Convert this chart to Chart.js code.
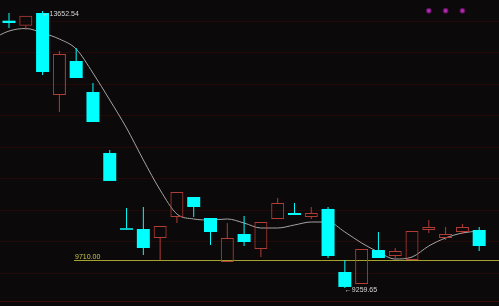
<!DOCTYPE html>
<html>
<head>
<meta charset="utf-8">
<script src="https://cdn.jsdelivr.net/npm/chart.js@4.4.1/dist/chart.umd.min.js"></script>
<style>
  html, body { margin: 0; padding: 0; background: #0b0909; overflow: hidden; }
  canvas { display: block; background: #0b0909; }
</style>
</head>
<body>
<canvas id="c" width="499" height="306"></canvas>
<script>
// ---- data ----
const opens  = [13499, 13419, 13621, 12320, 12860, 12368, 11401, 10207, 10195, 10053,
                10386, 10703, 10370,  9672, 10116,  9878, 10354, 10449, 10386, 10513,
                 9513,  9323,  9862,  9767,  9704, 10179, 10053, 10148, 10179];
const highs  = [13621, 13578, 13652.54, 13018, 13066, 12511, 11448, 10528, 10544, 10243,
                10782, 10703, 10370, 10290, 10402, 10306, 10687, 10608, 10544, 10544,
                 9704,  9878, 10148,  9894, 10164, 10338, 10227, 10275, 10227];
const lows   = [13383, 13351, 12638, 12051, 12590, 11892, 10957, 10179,  9783,  9705,
                10290, 10386,  9942,  9672,  9926,  9751, 10354, 10417, 10354,  9735,
                 9259.65, 9323, 9735, 9704,  9704, 10132, 10021, 10116,  9846];
const closes = [13462, 13578, 12685, 12971, 12590, 11892, 10957, 10183,  9894, 10243,
                10782, 10544, 10148, 10053,  9989, 10306, 10608, 10417, 10449,  9767,
                 9276,  9878,  9735,  9846, 10164, 10227, 10116, 10227,  9926];
// moving average, starting one bar before the first candle
const maStart = -1;
const maValues = [13208, 13335, 13375, 13304, 13208, 13050, 12669, 12241, 11797, 11290,
                  10814, 10433, 10354, 10338, 10354, 10290, 10211, 10211, 10259, 10306,
                  10306, 10148,  9973,  9830,  9719,  9751,  9926, 10053, 10132, 10164];
const gridLevels = [9500, 10000, 10500, 11000, 11500, 12000, 12500, 13000, 13500];
const supportLevel = 9710;
const signalIdx = [25, 26, 27];
const signalLevel = 13657;
const yMin = 8974, yMax = 13827;
const xMin = -0.536, xMax = 29.18;

// ---- colours ----
const UP = '#b23c36';
const DOWN = '#00ffff';
const BG = '#0b0909';

// ---- build datasets ----
const upBodies = [], downBodies = [], upWicks = [], downWicks = [];
opens.forEach((o, i) => {
  const c = closes[i], h = highs[i], l = lows[i];
  const top = Math.max(o, c), bot = Math.min(o, c);
  const up = c >= o;
  (up ? upBodies : downBodies).push({ x: i, y: [bot, top] });
  const wk = up ? upWicks : downWicks;
  if (h > top) wk.push({ x: i, y: [top, h] });
  if (l < bot) wk.push({ x: i, y: [l, bot] });
});
const maData = maValues.map((v, k) => ({ x: maStart + k, y: v }));
const sigData = signalIdx.map(i => ({ x: i, y: signalLevel }));

const fmt = v => v.toFixed(2);

const overlay = {
  id: 'overlay',
  beforeDraw(chart) {
    const ctx = chart.ctx;
    ctx.save();
    ctx.fillStyle = BG;
    ctx.fillRect(0, 0, chart.width, chart.height);
    ctx.restore();
  },
  beforeDatasetsDraw(chart) {
    const { ctx, chartArea: a, scales: { x, y } } = chart;
    ctx.save();
    ctx.lineWidth = 1;
    ctx.strokeStyle = '#240909';
    gridLevels.forEach(v => {
      const py = Math.round(y.getPixelForValue(v)) + 0.5;
      ctx.beginPath(); ctx.moveTo(a.left, py); ctx.lineTo(a.right, py); ctx.stroke();
    });
    // bottom pane border
    ctx.strokeStyle = '#3e0c0c';
    ctx.beginPath(); ctx.moveTo(a.left, a.bottom - 4.5); ctx.lineTo(a.right, a.bottom - 4.5); ctx.stroke();
    // support line
    const sy = Math.round(y.getPixelForValue(supportLevel)) + 0.5;
    const sx = a.left + 74;
    ctx.strokeStyle = '#a6a232';
    ctx.beginPath(); ctx.moveTo(sx, sy); ctx.lineTo(a.right, sy); ctx.stroke();
    ctx.fillStyle = '#c9c44a';
    ctx.font = "7px 'Liberation Sans', Arial, sans-serif";
    ctx.textBaseline = 'alphabetic';
    ctx.textAlign = 'left';
    ctx.fillText(fmt(supportLevel), sx + 1, sy - 2);
    ctx.restore();
  },
  afterDatasetsDraw(chart) {
    const { ctx, scales: { x, y } } = chart;
    let hi = 0, lo = 0;
    highs.forEach((v, i) => { if (v > highs[hi]) hi = i; });
    lows.forEach((v, i) => { if (v < lows[lo]) lo = i; });
    ctx.save();
    ctx.fillStyle = '#d8d8d8';
    ctx.font = "7px 'Liberation Sans', Arial, sans-serif";
    ctx.textBaseline = 'middle';
    ctx.textAlign = 'left';
    ctx.fillText('\u2190' + fmt(highs[hi]), x.getPixelForValue(hi), y.getPixelForValue(highs[hi]) + 3);
    ctx.fillText('\u2190' + fmt(lows[lo]), x.getPixelForValue(lo), y.getPixelForValue(lows[lo]) + 2);
    ctx.restore();
  }
};

const barCommon = { type: 'bar', grouped: false, borderSkipped: false, inflateAmount: 0 };

new Chart(document.getElementById('c'), {
  type: 'bar',
  data: {
    datasets: [
      { type: 'line', data: sigData, showLine: false, pointRadius: 2.2,
        pointBackgroundColor: '#b42ab4', pointBorderColor: 'rgba(110,20,110,0.6)', pointBorderWidth: 1.5, order: 0 },
      { ...barCommon, data: downBodies, backgroundColor: DOWN, borderWidth: 0, barThickness: 13, order: 1 },
      { ...barCommon, data: upBodies, backgroundColor: 'rgba(0,0,0,0)', borderColor: UP, borderWidth: 1, barThickness: 13, order: 1 },
      { ...barCommon, data: downWicks, backgroundColor: DOWN, borderWidth: 0, barThickness: 1, order: 2 },
      { ...barCommon, data: upWicks, backgroundColor: UP, borderWidth: 0, barThickness: 1, order: 2 },
      { type: 'line', data: maData, borderColor: '#a4a4a4', borderWidth: 1, pointRadius: 0,
        cubicInterpolationMode: 'monotone', fill: false, order: 3 }
    ]
  },
  options: {
    responsive: false,
    animation: false,
    events: [],
    layout: { padding: 0, autoPadding: false },
    plugins: { legend: { display: false }, tooltip: { enabled: false } },
    scales: {
      x: { type: 'linear', min: xMin, max: xMax, offset: false, display: false, grid: { display: false } },
      y: { type: 'linear', min: yMin, max: yMax, beginAtZero: false, display: false, grid: { display: false } }
    }
  },
  plugins: [overlay]
});
</script>
</body>
</html>
